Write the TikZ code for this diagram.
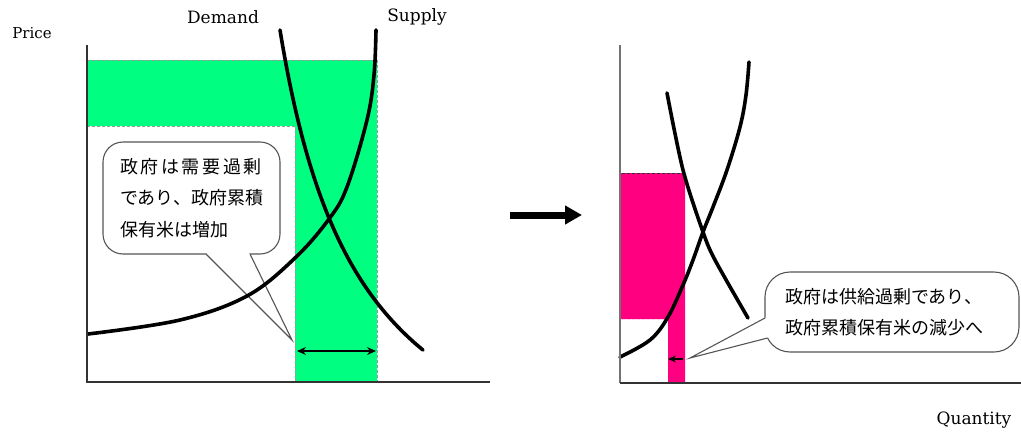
\documentclass[tikz,border=0pt]{standalone}
\usepackage{fontspec}
\setmainfont{DejaVu Serif}
\newfontfamily\jp{Noto Sans CJK JP}
\usetikzlibrary{arrows.meta}
\definecolor{sgreen}{HTML}{00FF80}
\definecolor{spink}{HTML}{FF0080}
\definecolor{boxgray}{HTML}{555555}
\tikzset{
  curve/.style={line width=3.6pt, line cap=round, line join=round},
  axisline/.style={line width=1.2pt, draw=black!80},
  gdash/.style={draw=black!40, dash pattern=on 3pt off 2pt, line width=0.8pt},
  callout/.style={draw=boxgray, line width=1.1pt, fill=white, inner sep=0pt},
  tail/.style={draw=boxgray, line width=1.1pt},
  lab/.style={font=\fontsize{17}{20}\selectfont, inner sep=0pt},
  jtext/.style={font=\jp\fontsize{18}{31.5}\selectfont, align=left}
}
\begin{document}
\begin{tikzpicture}[x=1pt,y=-1pt]
\useasboundingbox (0,0) rectangle (1021,434);

% ---------- left chart: shaded regions ----------
\fill[sgreen] (87,60) -- (377,60) -- (377,382) -- (295,382) -- (295,126) -- (87,126) -- cycle;
\draw[gdash] (87,60) -- (377,60) -- (377,382);
\draw[gdash] (87,126) -- (295,126) -- (295,382);

% ---------- right chart: shaded regions ----------
\fill[spink] (621,173) -- (685,173) -- (685,383) -- (668,383) -- (668,319) -- (621,319) -- cycle;
\draw[draw=black!80, dash pattern=on 3pt off 2pt, line width=0.8pt] (622,173) -- (685,173);
\draw[draw=white!80!spink, dash pattern=on 3pt off 2pt, line width=0.8pt] (622,319) -- (668,319);

% ---------- left callout ----------
\node[callout, rounded corners=20pt, minimum width=177pt, minimum height=112pt,
      text width=143pt, jtext] (lbox) at (191.5,198)
  {\makebox[142pt][s]{政\hfil 府\hfil は\hfil 需\hfil 要\hfil 過\hfil 剰}\\
   であり、政府累積\\
   保有米は増加};
\coordinate (tl1) at (206,254);
\coordinate (tl2) at (250,254);
\coordinate (ltip) at (292,340);
\fill[white] (207,253.1) -- (249,253.1) -- (250.5,255) -- (ltip) -- (205.5,255) -- cycle;
\draw[tail] (tl1) -- (ltip) -- (tl2);

% ---------- right callout ----------
\node[callout, rounded corners=25pt, minimum width=254pt, minimum height=80pt,
      text width=214pt, jtext] (rbox) at (892,312)
  {政府は供給過剰であり、\\
   政府累積保有米の減少へ};
\coordinate (tr1) at (765,318);
\coordinate (tr2) at (767.5,338);
\coordinate (rtip) at (690,358);
\fill[white] (767,317) -- (763.8,318.8) -- (763.8,338.5) -- (769,337.5) -- cycle;
\draw[tail] (tr1) -- (rtip) -- (tr2);

% ---------- left curves ----------
\draw[curve] plot[domain=280:423, samples=90, smooth] (\x, {534.9 - 417.04/((\x-197.4)/100)});
\draw[curve] plot[smooth, tension=0.6] coordinates
  {(376,30) (374,75) (367,120) (347,187) (329,219) (295,258) (247,296) (180,320) (88,334)};

% ---------- right curves ----------
\draw[curve] plot[smooth, tension=0.5] coordinates
  {(667,93) (683,170) (703,232) (715,260) (748,318)};
\draw[curve] plot[smooth, tension=0.6] coordinates
  {(749,62) (746,95) (740,127) (727,170) (713,207) (703,232) (693,260) (683,285) (668,317) (650,340) (620,357)};

% ---------- arrows ----------
\coordinate (da1) at (297,351);
\coordinate (da2) at (376,351);
\draw[{Stealth[length=9pt,width=8pt]}-{Stealth[length=9pt,width=8pt]}, line width=1.3pt] (da1) -- (da2);
\coordinate (sa1) at (683,359);
\coordinate (sa2) at (668,359);
\draw[-{Stealth[length=8pt,width=7pt]}, line width=1.3pt] (sa1) -- (sa2);
\coordinate (ma1) at (510,215);
\coordinate (ma2) at (582,215);
\draw[-{Triangle[length=17pt,width=18pt]}, line width=7pt] (ma1) -- (ma2);

% ---------- axes ----------
\coordinate (lo) at (87,382);
\draw[axisline] (87,45) -- (lo) -- (490,382);
\coordinate (ro) at (620,383);
\draw[line width=1.8pt, draw=black!55] (620,45) -- (ro);
\draw[axisline] (ro) -- (1021,383);

% ---------- labels ----------
\node[lab, font=\fontsize{15}{18}\selectfont] (price) at (32,33) {Price};
\node[lab] (demand) at (223,17) {Demand};
\node[lab] (supply) at (417,17) {Supply};
\node[lab] (quantity) at (974,420) {Quantity};
\end{tikzpicture}
\end{document}
